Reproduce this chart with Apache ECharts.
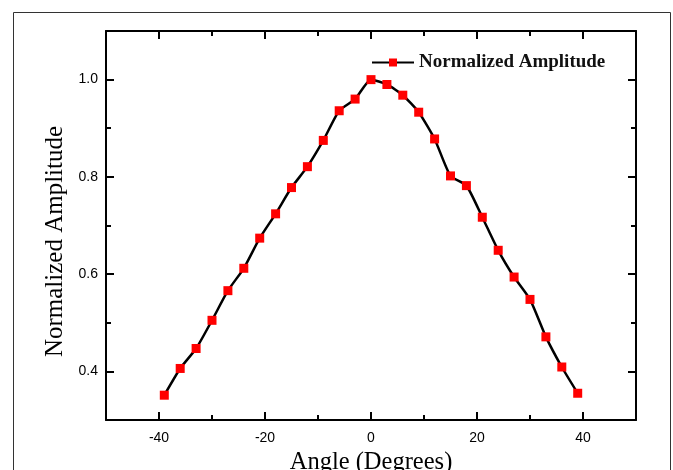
<!DOCTYPE html>
<html>
<head>
<meta charset="utf-8">
<script src="https://cdn.jsdelivr.net/npm/echarts@6/dist/echarts.min.js"></script>
<style>
  html, body { margin: 0; padding: 0; background: #fff; }
  #chart { width: 673px; height: 470px; }
</style>
</head>
<body>
<div id="chart"></div>
<script>
const angles = [-39, -36, -33, -30, -27, -24, -21, -18, -15, -12, -9, -6, -3, 0,
  3, 6, 9, 12, 15, 18, 21, 24, 27, 30, 33, 36, 39]
const amplitude = [0.351, 0.406, 0.447, 0.505, 0.566, 0.612, 0.674, 0.724, 0.778, 0.821, 0.875, 0.936, 0.960, 1.000,
  0.990, 0.968, 0.933, 0.878, 0.802, 0.782, 0.717, 0.649, 0.594, 0.548, 0.471, 0.409, 0.355]
const xLabels = [-40, -20, 0, 20, 40]
const yLabels = [0.4, 0.6, 0.8, 1.0]

const chart = echarts.init(document.getElementById('chart'))

const line = { show: true, onZero: false, lineStyle: { color: '#000', width: 2 } }
const noLine = { show: false, onZero: false }

// one axis per side for the long ticks and labels, one for the short ones
const xBase = { type: 'value', min: -50, max: 50, interval: 10, splitLine: { show: false } }
const yBase = { type: 'value', min: 0.3, max: 1.1, interval: 0.1, splitLine: { show: false } }

const majorX = (pos, labels) => Object.assign({}, xBase, {
  position: pos,
  axisLine: line,
  axisTick: { inside: true, length: 8, customValues: xLabels, lineStyle: { color: '#000', width: 2 } },
  axisLabel: labels
    ? { customValues: xLabels, color: '#000', fontSize: 14, fontFamily: 'Liberation Sans', margin: 11 }
    : { show: false }
})
const minorX = (pos) => Object.assign({}, xBase, {
  position: pos,
  axisLine: noLine,
  axisTick: { inside: true, length: 5, lineStyle: { color: '#000', width: 2 } },
  axisLabel: { show: false }
})
const majorY = (pos, labels) => Object.assign({}, yBase, {
  position: pos,
  axisLine: line,
  axisTick: { inside: true, length: 8, customValues: yLabels, lineStyle: { color: '#000', width: 2 } },
  axisLabel: labels
    ? { customValues: yLabels, color: '#000', fontSize: 14, fontFamily: 'Liberation Sans', margin: 8,
        formatter: v => v.toFixed(1) }
    : { show: false }
})
const minorY = (pos) => Object.assign({}, yBase, {
  position: pos,
  axisLine: noLine,
  axisTick: { inside: true, length: 5, lineStyle: { color: '#000', width: 2 } },
  axisLabel: { show: false }
})

const xBottom = majorX('bottom', true)
xBottom.name = 'Angle (Degrees)'
xBottom.nameLocation = 'middle'
xBottom.nameGap = 26
xBottom.nameTextStyle = { fontFamily: 'Liberation Serif', fontSize: 24.5, color: '#000' }

const yLeft = majorY('left', true)
yLeft.name = 'Normalized Amplitude'
yLeft.nameLocation = 'middle'
yLeft.nameGap = 38
// extra padding at the end pushes the title a little below the middle, as in the picture
yLeft.nameTextStyle = { fontFamily: 'Liberation Serif', fontSize: 25, color: '#000', padding: [0, 32, 0, 0] }

const option = {
  backgroundColor: '#fff',
  animation: false,
  graphic: [{
    type: 'rect',
    shape: { x: 13.5, y: 12.5, width: 657, height: 480 },
    style: { fill: 'none', stroke: '#333', lineWidth: 1 },
    silent: true
  }],
  grid: { left: 106, right: 37, top: 31, bottom: 50, outerBoundsMode: 'none' },
  legend: {
    left: 366,
    top: 48,
    itemWidth: 42,
    itemHeight: 10,
    textStyle: { fontFamily: 'Liberation Serif', fontSize: 19, fontWeight: 'bold', color: '#111' },
    data: ['Normalized Amplitude']
  },
  xAxis: [xBottom, minorX('bottom'), majorX('top', false), minorX('top')],
  yAxis: [yLeft, minorY('left'), majorY('right', false), minorY('right')],
  series: [{
    name: 'Normalized Amplitude',
    type: 'line',
    xAxisIndex: 0,
    yAxisIndex: 0,
    data: angles.map((a, i) => [a, amplitude[i]]),
    smooth: 0.2,
    symbol: 'rect',
    symbolSize: 9,
    lineStyle: { color: '#000', width: 2.5 },
    itemStyle: { color: '#ff0000' }
  }]
}

chart.setOption(option)
</script>
</body>
</html>
